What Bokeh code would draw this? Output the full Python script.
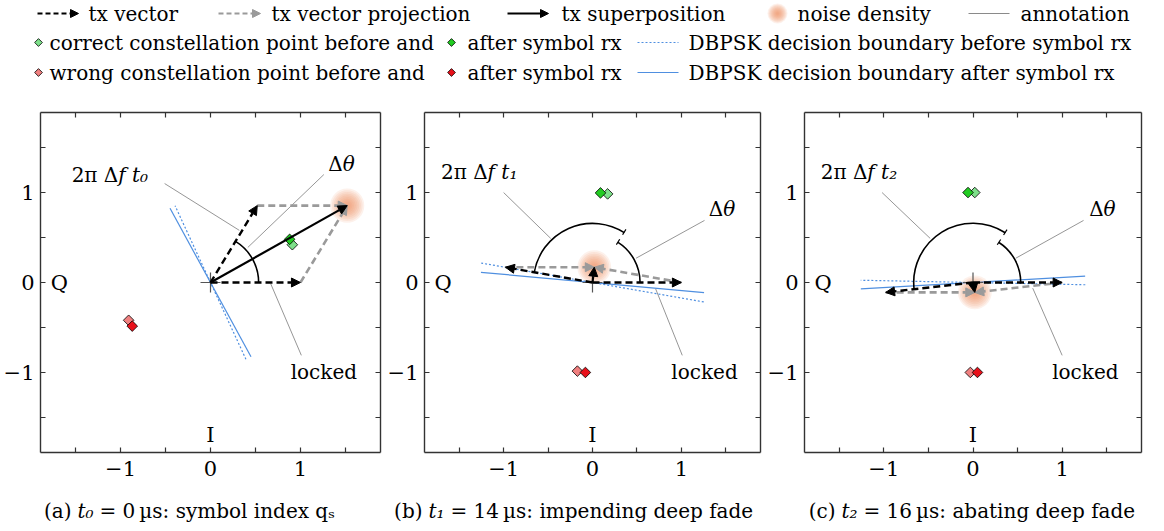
import math
from bokeh.plotting import figure
from bokeh.models import Range1d, LinearAxis, FixedTicker, Arrow, NormalHead
from bokeh.layouts import column, row
from bokeh.core.properties import value
from bokeh.embed import file_html
from bokeh.resources import INLINE

FONT = "DejaVu Serif"

# ---------------- data ----------------
caption_prefix = ["(a)", "(b)", "(c)"]
caption_time = ["t₀", "t₁", "t₂"]
caption_rest = ["= 0\u2009µs: symbol index qₛ",
                "= 14\u2009µs: impending deep fade",
                "= 16\u2009µs: abating deep fade"]
rotation_tail = ["f t₀", "f t₁", "f t₂"]

# tx vectors (reference / rotated)
tx1_x = [1.0, 1.0, 1.0]
tx1_y = [0.0, 0.0, 0.0]
tx2_x = [0.52, -0.98, -0.98]
tx2_y = [0.855, 0.17, -0.11]

# constellation points
correct_before_x = [0.91, 0.17, 0.02]
correct_before_y = [0.42, 0.985, 1.0]
correct_after_x = [0.88, 0.09, -0.056]
correct_after_y = [0.48, 0.996, 1.0]
wrong_before_x = [-0.91, -0.17, -0.03]
wrong_before_y = [-0.42, -0.985, -1.0]
wrong_after_x = [-0.87, -0.08, 0.05]
wrong_after_y = [-0.485, -1.0, -1.0]

# decision boundary half lengths
boundary_before_len = [0.94, 1.27, 1.26]
boundary_after_len = [0.94, 1.26, 1.26]

# angles (deg)
delta_theta_deg = [58.7, 57.5, 57.0]

# axis ticks
major_ticks = [-1, 0, 1]
minor_ticks = [-1.5, -0.5, 0.5, 1.5]
tick_labels = {-1: "\u22121", 0: "0", 1: "1"}

# legend texts
legend_row1 = ["tx vector", "tx vector projection", "tx superposition", "noise density", "annotation"]
legend_row2 = ["correct constellation point before and", "after symbol rx",
               "DBPSK decision boundary before symbol rx"]
legend_row3 = ["wrong constellation point before and", "after symbol rx",
               "DBPSK decision boundary after symbol rx"]

# ---------------- layout / styles ----------------
ROT_SPLIT = [(-1.025, 1.19), (-1.18, 1.225), (-1.185, 1.225)]
ROT_LINE = [((-0.51, 1.10), (0.32, 0.58)), ((-1.0, 1.0), (-0.47, 0.49)), ((-1.02, 1.0), (-0.48, 0.49))]
DTH_SPLIT = [(1.47, 1.32), (1.47, 0.82), (1.465, 0.82)]
DTH_LINE = [((1.26, 1.20), (0.415, 0.39)), ((1.26, 0.69), (0.49, 0.27)), ((1.24, 0.69), (0.48, 0.27))]
LOCKED_POS = [(1.26, -1.0), (1.26, -1.0), (1.26, -1.0)]
LOCKED_LINE = [((1.01, -0.81), (0.67, -0.015)), ((1.01, -0.81), (0.71, -0.07)), ((1.0, -0.81), (0.67, -0.063))]
CAPTION_T_X = [77, 428, 841]

BLUE = "#4f8fe0"
ORANGE = "#f28c5a"
GRAY = "#9a9a9a"
ANN = "#8a8a8a"
AXC = "#333333"
C_BEFORE, C_AFTER = "#7ee08a", "#22cc22"
W_BEFORE, W_AFTER = "#f08080", "#e8101a"
DASH = "7 4"
R_DTH, R_ROT = 0.535, 0.665
LIM = 1.89


def add_arrow(p, x0, y0, x1, y1, color, dash, lw, head=9):
    p.add_layout(Arrow(end=NormalHead(size=head, fill_color=color, line_color=color, line_width=1),
                       x_start=x0, y_start=y0, x_end=x1, y_end=y1,
                       line_color=color, line_width=lw, line_dash=dash))


def style_axis(ax, labels, standoff):
    if labels:
        ax.ticker = FixedTicker(ticks=major_ticks, minor_ticks=minor_ticks)
        ax.major_label_overrides = tick_labels
        ax.major_label_text_font = FONT
        ax.major_label_text_font_size = "21px"
        ax.major_label_text_color = "black"
        ax.major_label_standoff = standoff
    else:
        # ticks only, no labels: every tick is drawn as a minor tick
        ax.ticker = FixedTicker(ticks=[], minor_ticks=sorted(major_ticks + minor_ticks))
        ax.major_label_standoff = 0
    ax.major_tick_in = 5
    ax.major_tick_out = 0
    ax.minor_tick_in = 5
    ax.minor_tick_out = 0
    ax.axis_line_color = AXC
    ax.axis_line_width = 1.4
    ax.major_tick_line_color = AXC
    ax.minor_tick_line_color = AXC
    ax.major_tick_line_width = 1.2
    ax.minor_tick_line_width = 1.2


def txt(p, x, y, s, align="left", style="normal", size="20px"):
    p.text(x=[x], y=[y], text=[s], text_font=value(FONT), text_font_size=size,
           text_align=align, text_baseline="middle", text_color="black", text_font_style=style)


def panel(i, width, left, right):
    p = figure(width=width, height=395, x_range=Range1d(-LIM, LIM), y_range=Range1d(-LIM, LIM),
               x_axis_type=None, y_axis_type=None, output_backend="svg", toolbar_location=None,
               min_border_left=left, min_border_right=right, min_border_top=17, min_border_bottom=38)
    p.outline_line_color = None
    for loc, lab, so in (("below", True, 8), ("left", True, 6), ("above", False, 0), ("right", False, 0)):
        ax = LinearAxis()
        style_axis(ax, lab, so)
        p.add_layout(ax, loc)

    # decision boundaries
    for cx, cy, L, dash in ((correct_before_x[i], correct_before_y[i], boundary_before_len[i], "2 2"),
                            (correct_after_x[i], correct_after_y[i], boundary_after_len[i], "solid")):
        n = math.hypot(cx, cy)
        px, py = -cy / n * L, cx / n * L
        p.line([-px, px], [-py, py], line_color=BLUE, line_width=1.2, line_dash=dash)

    sx = tx1_x[i] + tx2_x[i]
    sy = tx1_y[i] + tx2_y[i]
    # noise density
    for k in range(10):
        p.circle(x=[sx], y=[sy], radius=0.19 * (1 - k / 10.0), fill_color=ORANGE,
                 fill_alpha=0.12, line_color=None)

    # origin cross
    p.scatter(x=[0], y=[0], marker="cross", size=20, line_color="#555555", line_width=1.2)

    # constellation points
    for xs, ys, col in ((correct_before_x, correct_before_y, C_BEFORE),
                        (correct_after_x, correct_after_y, C_AFTER),
                        (wrong_before_x, wrong_before_y, W_BEFORE),
                        (wrong_after_x, wrong_after_y, W_AFTER)):
        p.scatter(x=[xs[i]], y=[ys[i]], marker="square", angle=math.pi / 4, size=7.5,
                  fill_color=col, line_color="black", line_width=0.8)

    # annotation lines
    for (a, b) in (ROT_LINE[i], DTH_LINE[i], LOCKED_LINE[i]):
        p.line([a[0], b[0]], [a[1], b[1]], line_color=ANN, line_width=0.9)

    # angle arcs
    dth = delta_theta_deg[i]
    p.arc(x=[0], y=[0], radius=R_DTH, start_angle=0, end_angle=dth,
          start_angle_units="deg", end_angle_units="deg", line_color="black", line_width=1.6)
    rot_end = math.degrees(math.atan2(tx2_y[i], tx2_x[i])) % 360
    if rot_end - dth > 5:
        p.arc(x=[0], y=[0], radius=R_ROT, start_angle=dth, end_angle=rot_end,
              start_angle_units="deg", end_angle_units="deg", line_color="black", line_width=1.6)
        t = math.radians(dth)
        for r in (R_DTH, R_ROT):
            p.line([(r - 0.035) * math.cos(t), (r + 0.035) * math.cos(t)],
                   [(r - 0.035) * math.sin(t), (r + 0.035) * math.sin(t)],
                   line_color="black", line_width=1.2)

    # vectors
    add_arrow(p, tx2_x[i], tx2_y[i], sx, sy, GRAY, DASH, 2.6)
    add_arrow(p, tx1_x[i], tx1_y[i], sx, sy, GRAY, DASH, 2.6)
    add_arrow(p, 0, 0, tx1_x[i], tx1_y[i], "black", DASH, 2.4)
    add_arrow(p, 0, 0, tx2_x[i], tx2_y[i], "black", DASH, 2.4)
    add_arrow(p, 0, 0, sx, sy, "black", "solid", 2.2)

    # texts
    rx, ry = ROT_SPLIT[i]
    txt(p, rx, ry, "2π Δ", align="right")
    txt(p, rx, ry, rotation_tail[i], align="left", style="italic")
    dx, dy = DTH_SPLIT[i]
    txt(p, dx, dy, "Δ", align="right")
    txt(p, dx, dy, "θ", align="left", style="italic")
    lx, ly = LOCKED_POS[i]
    txt(p, lx, ly, "locked", align="center")
    txt(p, 0, -1.70, "I", align="center", size="21px")
    txt(p, -1.68, 0, "Q", align="center", size="21px")
    return p


pa = panel(0, 384, 40, 4)
pb = panel(1, 380, 36, 4)
pc = panel(2, 400, 37, 23)

# ---------------- legend ----------------
lg = figure(width=1164, height=95, x_range=Range1d(0, 1164), y_range=Range1d(95, 0),
            x_axis_type=None, y_axis_type=None, output_backend="svg", toolbar_location=None, min_border=0)
lg.outline_line_color = None
Y1, Y2, Y3 = 13, 42, 72
add_arrow(lg, 37, Y1, 78, Y1, "black", "5 3", 2.2, head=8)
add_arrow(lg, 218, Y1, 260, Y1, GRAY, "5 3", 2.2, head=8)
add_arrow(lg, 507, Y1, 548, Y1, "black", "solid", 2.2, head=8)
for k in range(10):
    lg.circle(x=[777], y=[Y1], radius=10 * (1 - k / 10.0), fill_color=ORANGE, fill_alpha=0.12, line_color=None)
lg.line([968, 1009], [Y1, Y1], line_color=ANN, line_width=1)
for x, s in zip([88, 271, 561, 797, 1020], legend_row1):
    txt(lg, x, Y1, s)
lg.scatter(x=[38], y=[Y2], marker="square", angle=math.pi / 4, size=5.5, fill_color=C_BEFORE, line_color="black", line_width=0.8)
lg.scatter(x=[451], y=[Y2], marker="square", angle=math.pi / 4, size=5.5, fill_color=C_AFTER, line_color="black", line_width=0.8)
lg.line([637, 678], [Y2, Y2], line_color=BLUE, line_width=1.2, line_dash="2 2")
lg.scatter(x=[38], y=[Y3], marker="square", angle=math.pi / 4, size=5.5, fill_color=W_BEFORE, line_color="black", line_width=0.8)
lg.scatter(x=[451], y=[Y3], marker="square", angle=math.pi / 4, size=5.5, fill_color=W_AFTER, line_color="black", line_width=0.8)
lg.line([637, 678], [Y3, Y3], line_color=BLUE, line_width=1.2)
for x, s in zip([49, 467, 688], legend_row2):
    txt(lg, x, Y2, s)
for x, s in zip([49, 467, 688], legend_row3):
    txt(lg, x, Y3, s)

# ---------------- captions ----------------
cf = figure(width=1164, height=41, x_range=Range1d(0, 1164), y_range=Range1d(41, 0),
            x_axis_type=None, y_axis_type=None, output_backend="svg", toolbar_location=None, min_border=0)
cf.outline_line_color = None
for i in range(3):
    xt = CAPTION_T_X[i]
    txt(cf, xt - 6, 20, caption_prefix[i], align="right")
    txt(cf, xt, 20, caption_time[i], align="left", style="italic")
    txt(cf, xt + 22, 20, caption_rest[i], align="left")

layout = column(lg, row(pa, pb, pc), cf)
open("out.html", "w").write(file_html(layout, INLINE))
